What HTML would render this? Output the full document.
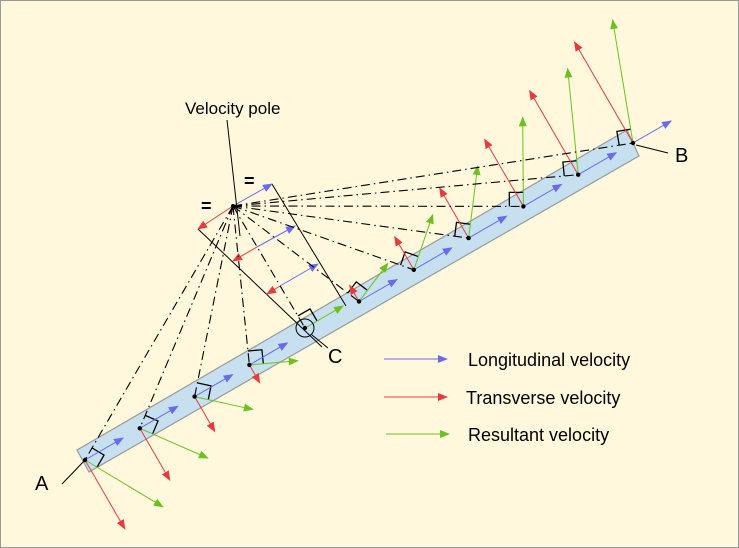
<!DOCTYPE html>
<html><head><meta charset="utf-8"><style>
html,body{margin:0;padding:0;background:#fff8dc;}
svg{display:block;font-family:"Liberation Sans",sans-serif;}
</style></head><body>
<svg id="s" width="739" height="548" viewBox="0 0 739 548" xmlns="http://www.w3.org/2000/svg">
<defs>
<marker id="mb" markerWidth="10" markerHeight="8" refX="9" refY="4" orient="auto" markerUnits="userSpaceOnUse"><path d="M0,0 L10,4 L0,8 Z" fill="#6a6af0"/></marker>
<marker id="mr" markerWidth="10" markerHeight="8" refX="9" refY="4" orient="auto" markerUnits="userSpaceOnUse"><path d="M0,0 L10,4 L0,8 Z" fill="#e83a3a"/></marker>
<marker id="mg" markerWidth="10" markerHeight="8" refX="9" refY="4" orient="auto" markerUnits="userSpaceOnUse"><path d="M0,0 L10,4 L0,8 Z" fill="#6cc21c"/></marker>
</defs>
<rect x="0.5" y="0.5" width="738" height="547" fill="#fff8dc" stroke="#999"/>
<polygon points="77,450 627,130 639,156 89,472" fill="#c6e0f0" stroke="#999" stroke-width="1.2"/>
<g id="g"></g>
<text x="185" y="114" font-size="17">Velocity pole</text>
<line x1="227" y1="120" x2="240" y2="236" stroke="#000" stroke-width="1"/>
<text x="201" y="212" font-size="18" font-weight="bold">=</text>
<text x="244" y="187" font-size="18" font-weight="bold">=</text>
<text x="35" y="490" font-size="20">A</text>
<line x1="62" y1="484" x2="85" y2="460" stroke="#000"/>
<text x="675" y="162" font-size="20">B</text>
<line x1="636" y1="145" x2="668" y2="153" stroke="#000"/>
<text x="328" y="363" font-size="20">C</text>
<line x1="312" y1="335" x2="328" y2="348" stroke="#000"/>
<circle cx="305" cy="328" r="9" fill="none" stroke="#000"/>
<line x1="384" y1="359" x2="447" y2="359" stroke="#6a6af0" marker-end="url(#mb)"/>
<line x1="384" y1="397" x2="447" y2="397" stroke="#e83a3a" marker-end="url(#mr)"/>
<line x1="386" y1="434" x2="449" y2="434" stroke="#6cc21c" marker-end="url(#mg)"/>
<text x="468" y="366" font-size="18">Longitudinal velocity</text>
<text x="466" y="404" font-size="18">Transverse velocity</text>
<text x="468" y="441" font-size="18">Resultant velocity</text>
</svg>
<script>
(function(){
var g=document.getElementById('g'),NS="http://www.w3.org/2000/svg";
function el(t,a){var e=document.createElementNS(NS,t);for(var k in a)e.setAttribute(k,a[k]);g.appendChild(e);return e;}
var P=[233,206],A=[85,460],B=[633,143],C=[305,328];
var dx=B[0]-A[0],dy=B[1]-A[1],L=Math.hypot(dx,dy),u=[dx/L,dy/L];
var n=[u[1],-u[0]]; // perpendicular: up-left when ds>0
var sC=(C[0]-A[0])*u[0]+(C[1]-A[1])*u[1];
var k=0.31,lv=44;
var N=10;
el('line',{x1:198,y1:229,x2:322,y2:347,stroke:'#000'});
el('line',{x1:272,y1:184,x2:346,y2:306,stroke:'#000'});
[[P,[198,229],[272,184]],[[257,247],[233,261],[295,226]],[[280,286],[267,294],[318,264]]].forEach(function(r){
 el('line',{x1:r[0][0],y1:r[0][1],x2:r[1][0],y2:r[1][1],stroke:'#e83a3a','marker-end':'url(#mr)'});
 el('line',{x1:r[0][0],y1:r[0][1],x2:r[2][0],y2:r[2][1],stroke:'#6a6af0','marker-end':'url(#mb)'});
});
for(var i=0;i<=N;i++){
 var s=L*i/N,p=[A[0]+u[0]*s,A[1]+u[1]*s];
 if(i==4)p=C.slice();
 var ds=(p[0]-A[0])*u[0]+(p[1]-A[1])*u[1]-sC;
 var tr=[n[0]*k*ds,n[1]*k*ds],lo=[u[0]*lv,u[1]*lv],re=[tr[0]+lo[0],tr[1]+lo[1]];
 var ex=p[0]-P[0],ey=p[1]-P[1],el2=Math.hypot(ex,ey);
 el('line',{x1:P[0],y1:P[1],x2:p[0],y2:p[1],stroke:'#000','stroke-width':1.1,'stroke-dasharray':'9,4,1.5,4'});
 var e=[ex/el2,ey/el2],f=[re[0],re[1]];var fl=Math.hypot(f[0],f[1]);f=[f[0]/fl,f[1]/fl];
 var q=[p[0]-14*e[0],p[1]-14*e[1]];
 el('polyline',{points:q[0]+','+q[1]+' '+(q[0]+14*f[0])+','+(q[1]+14*f[1])+' '+(p[0]+14*f[0])+','+(p[1]+14*f[1]),fill:'none',stroke:'#000','stroke-width':1.3});
 if(i!=4){el('line',{x1:p[0],y1:p[1],x2:p[0]+lo[0],y2:p[1]+lo[1],stroke:'#6a6af0','marker-end':'url(#mb)'});
 el('line',{x1:p[0],y1:p[1],x2:p[0]+tr[0],y2:p[1]+tr[1],stroke:'#e83a3a','marker-end':'url(#mr)'});}
 el('line',{x1:p[0],y1:p[1],x2:p[0]+re[0],y2:p[1]+re[1],stroke:'#6cc21c','marker-end':'url(#mg)'});
 el('circle',{cx:p[0],cy:p[1],r:2.2,fill:'#000'});
}
el('circle',{cx:P[0],cy:P[1],r:2,fill:'#000'});
})();
</script>
</body></html>
